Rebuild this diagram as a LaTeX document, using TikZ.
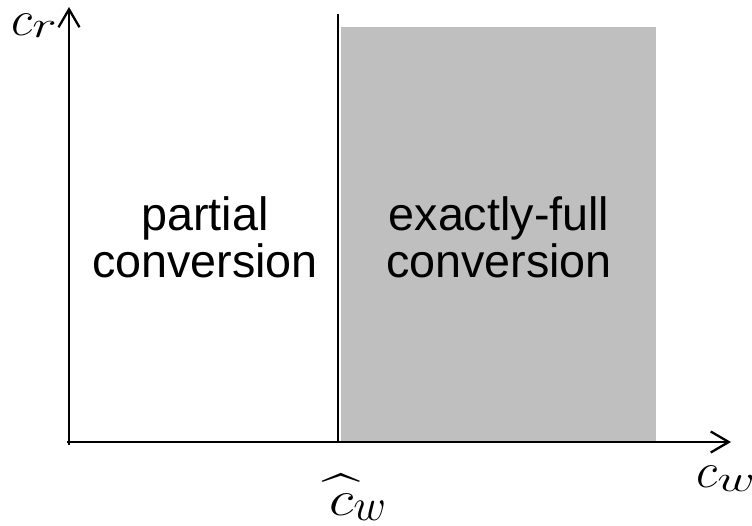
\RequirePackage{fix-cm}
\documentclass[tikz,border=0pt]{standalone}
\usepackage{amsmath}
\usepackage{graphicx}
\usepackage{fontspec}
\newfontfamily\regionfont{Liberation Sans}
\usepackage{tikz}
\usetikzlibrary{arrows.meta, positioning}

% wide, slightly lowered index of an axis name
\newcommand{\idx}[2]{\raisebox{-#2}{\scalebox{1.4}[1]{\fontsize{37}{40}\selectfont$#1$}}}
% c with a wide hat
\newcommand{\hatc}{\ooalign{\scalebox{1.15}[1]{$c$}\cr
    \hidewidth\raisebox{5pt}{\scalebox{1.35}[1]{\^{}}}\hidewidth\cr}}

\begin{document}
\begin{tikzpicture}[
    x=1pt, y=-1pt,
    axis/.style={line width=2.3pt, -{Straight Barb[length=18pt, width=21pt]}},
    bound/.style={line width=2pt},
    region/.style={
        font=\regionfont\fontsize{46.7}{47}\selectfont,
        align=center, inner sep=0pt
    },
    axlabel/.style={font=\fontsize{50}{60}\selectfont, inner sep=0pt, anchor=base west}
]
    \useasboundingbox (0,0) rectangle (752,525);

    % Shaded region
    \fill[gray!50] (341,27) rectangle (656,442);

    % Axes
    \coordinate (origin) at (69,442);
    \coordinate (ytip) at (69,7);
    \coordinate (xtip) at (731,442);
    \draw[axis] ([yshift=-3pt]origin) -- (ytip);
    \draw[axis] ([xshift=-2pt]origin) -- (xtip);

    % Threshold line
    \coordinate (thtop) at (338,14);
    \coordinate (thbot) at (338,442);
    \draw[bound] (thbot) -- (thtop);

    % Axis labels
    \node[axlabel] (crlab) at (11,35) {$c$\idx{r}{2pt}};
    \node[axlabel] (cwlab) at (696,487) {$c$\idx{w}{4pt}};
    \node[axlabel] (chatlab) at (329,515)
        {\hatc\raisebox{-5pt}{\fontsize{45}{50}\selectfont$w$}};

    % Regions
    \node[region] (partial) at (205,237) {partial\\conversion};
    \node[region] (full) at (499,237) {exactly-full\\conversion};
\end{tikzpicture}
\end{document}
